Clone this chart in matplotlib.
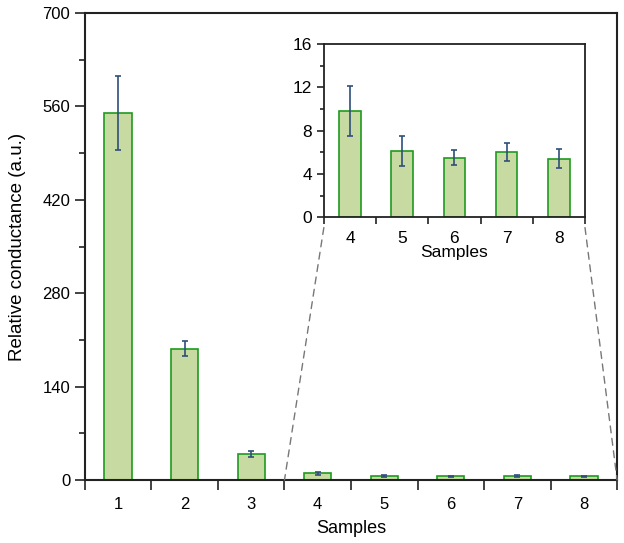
import numpy as np
import matplotlib
matplotlib.use('Agg')
import matplotlib.pyplot as plt
from matplotlib.patches import ConnectionPatch

plt.rcParams['font.family'] = ['Liberation Sans', 'DejaVu Sans']

samples = [1, 2, 3, 4, 5, 6, 7, 8]
values = [550, 197, 38.5, 9.8, 6.1, 5.5, 6.0, 5.4]
errors = [55, 11.5, 4.5, 2.3, 1.4, 0.7, 0.85, 0.9]
inset_samples = samples[3:]
inset_values = values[3:]
inset_errors = errors[3:]

fill = '#c6daa2'
edge = '#1f9a1f'
ecol = '#2f4f7a'
spine = '#222222'

fig = plt.figure(figsize=(6.24, 5.43), dpi=100)
ax = fig.add_axes([0.136, 0.116, 0.853, 0.86])

ax.bar(samples, values, width=0.41, color=fill, edgecolor=edge, linewidth=1.2, zorder=2)
ax.errorbar(samples, values, yerr=errors, fmt='none', ecolor=ecol, elinewidth=1.2,
            capsize=2.5, capthick=1.2, zorder=3)
ax.set_xlim(0.5, 8.5)
ax.set_ylim(0, 700)
ax.set_yticks(np.arange(0, 701, 140))
ax.set_yticks(np.arange(70, 700, 140), minor=True)
ax.set_xticks(np.arange(0.5, 8.6, 1))
ax.set_xticklabels([])
ax.set_xticks(samples, minor=True)
ax.set_xticklabels([str(s) for s in samples], minor=True)
ax.tick_params(axis='x', which='minor', length=0, labelsize=12, pad=12)
ax.tick_params(axis='x', which='major', length=7, width=1.2, color=spine)
ax.tick_params(axis='y', which='major', length=7, width=1.2, labelsize=12, color=spine)
ax.tick_params(axis='y', which='minor', length=4, width=1.2, color=spine)
for s in ax.spines.values():
    s.set_linewidth(1.5)
    s.set_color(spine)
ax.set_xlabel('Samples', fontsize=13, labelpad=6)
ax.set_ylabel('Relative conductance (a.u.)', fontsize=13.5, labelpad=12)

ins = fig.add_axes([0.519, 0.600, 0.4185, 0.319])
ins.bar(inset_samples, inset_values, width=0.41, color=fill, edgecolor=edge, linewidth=1.2, zorder=2)
ins.errorbar(inset_samples, inset_values, yerr=inset_errors, fmt='none', ecolor=ecol,
             elinewidth=1.2, capsize=2.5, capthick=1.2, zorder=3)
ins.set_xlim(3.5, 8.5)
ins.set_ylim(0, 16)
ins.set_yticks(np.arange(0, 17, 4))
ins.set_yticks(np.arange(2, 16, 4), minor=True)
ins.set_xticks(np.arange(3.5, 8.6, 1))
ins.set_xticklabels([])
ins.set_xticks(inset_samples, minor=True)
ins.set_xticklabels([str(s) for s in inset_samples], minor=True)
ins.tick_params(axis='x', which='minor', length=0, labelsize=12.5, pad=10)
ins.tick_params(axis='x', which='major', length=5, width=1.2, color=spine)
ins.tick_params(axis='y', which='major', length=5, width=1.2, labelsize=12.5, color=spine)
ins.tick_params(axis='y', which='minor', length=3, width=1.2, color=spine)
for s in ins.spines.values():
    s.set_linewidth(1.3)
    s.set_color(spine)
ins.set_xlabel('Samples', fontsize=12.5, labelpad=-1)

for xa, xb in [(0, 3.5), (1, 8.5)]:
    con = ConnectionPatch(xyA=(xa, -0.06), coordsA=ins.transAxes,
                          xyB=(xb, 0), coordsB=ax.transData,
                          linestyle=(0, (5, 4)), color='#777777', linewidth=1.0)
    fig.add_artist(con)

fig.savefig('out.png', dpi=100)
